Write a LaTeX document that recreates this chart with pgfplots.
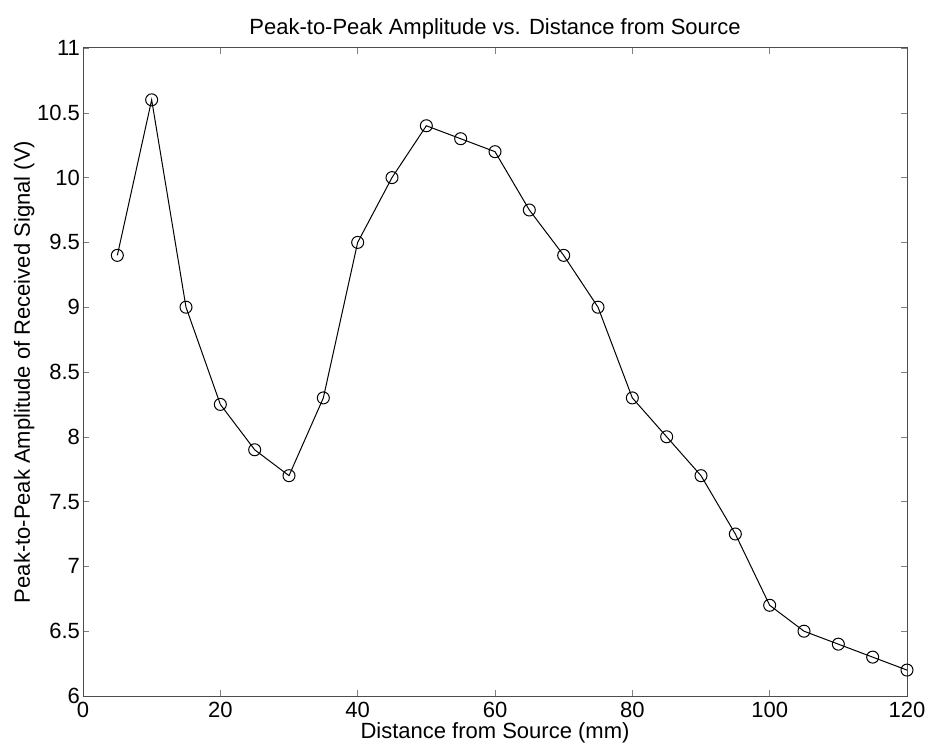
\documentclass[border=0pt]{standalone}
\usepackage{pgfplots}
\pgfplotsset{compat=1.18}
\usepackage{fontspec}
\setmainfont{Liberation Sans}
\begin{document}
\begin{tikzpicture}
\path[use as bounding box] (-41.5pt,-24pt) rectangle (423.5pt,348pt);
\begin{axis}[
  at={(0,0)}, anchor=south west,
  scale only axis, width=412pt, height=324pt,
  xmin=0, xmax=120, ymin=6, ymax=11,
  xtick={0,20,...,120},
  ytick={6,6.5,...,11},
  yticklabel style={/pgf/number format/fixed},
  tick align=inside,
  major tick length=3pt,
  axis line style={black!70, line width=0.5pt},
  /pgf/number format/assume math mode=true,
  tick label style={font=\fontsize{11}{13}\selectfont},
  label style={font=\fontsize{11}{13}\selectfont},
  title style={font=\fontsize{11}{13}\selectfont, yshift=-5pt},
  title={Peak-to-Peak Amplitude vs. Distance from Source},
  xlabel={Distance from Source (mm)},
  ylabel={Peak-to-Peak Amplitude of Received Signal (V)},
  xlabel style={yshift=-0.8pt, inner sep=0.5pt},
  ylabel style={yshift=-5.5pt},
  xticklabel style={yshift=-1.8pt, inner sep=1pt},
  yticklabel style={xshift=2pt},
]
\addplot[black, line width=0.5pt, mark=o, mark size=3pt, mark options={line width=0.5pt}] coordinates {
(5,9.4) (10,10.6) (15,9.0) (20,8.25) (25,7.9) (30,7.7) (35,8.3) (40,9.5)
(45,10.0) (50,10.4) (55,10.3) (60,10.2) (65,9.75) (70,9.4) (75,9.0) (80,8.3)
(85,8.0) (90,7.7) (95,7.25) (100,6.7) (105,6.5) (110,6.4) (115,6.3) (120,6.2)
};
\end{axis}
\end{tikzpicture}
\end{document}
